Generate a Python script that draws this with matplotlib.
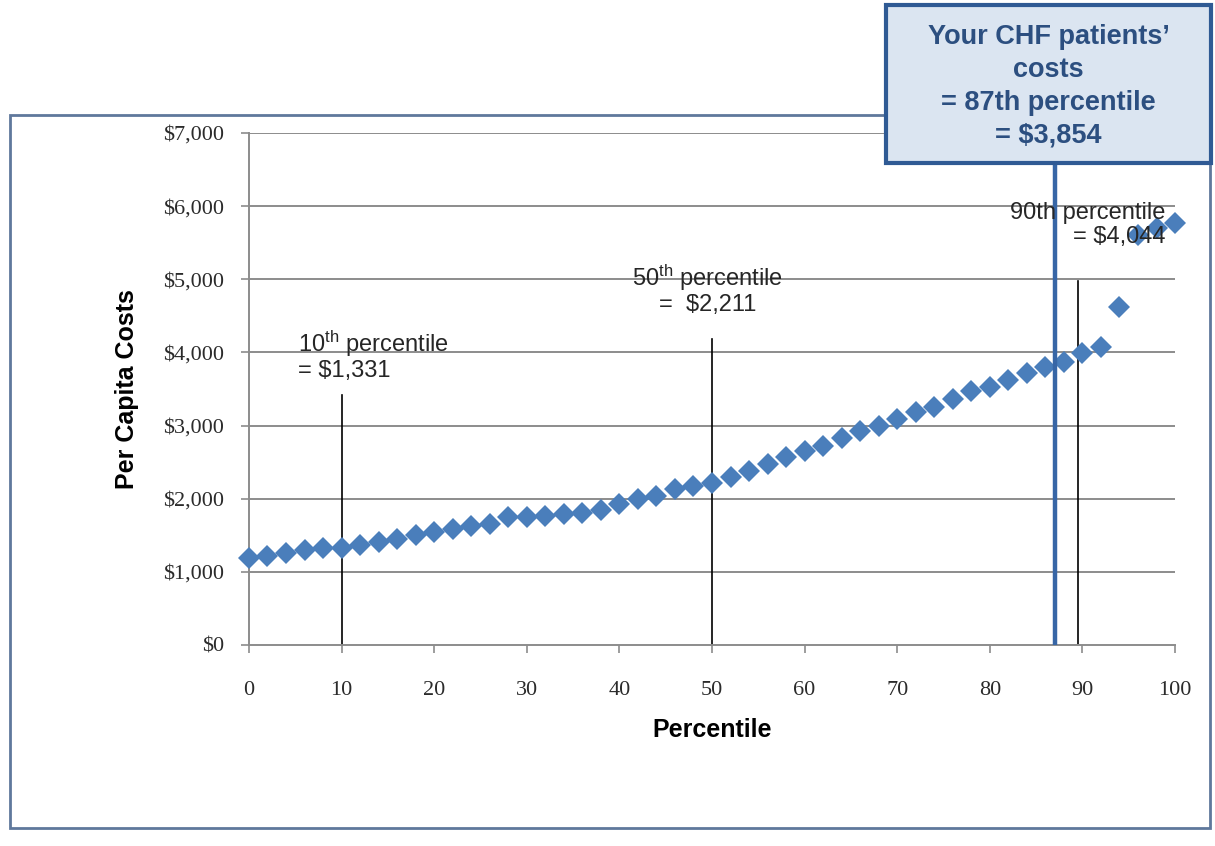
import matplotlib
matplotlib.use("Agg")
import matplotlib.pyplot as plt
from matplotlib.patches import Rectangle

# ======================
# Data
# ======================
percentiles = list(range(0, 101, 2))
costs = [1195, 1215, 1255, 1300, 1325, 1331, 1370, 1410, 1455, 1500,
         1545, 1580, 1625, 1660, 1748, 1755, 1760, 1795, 1800, 1850,
         1930, 2000, 2035, 2135, 2180, 2211, 2293, 2385, 2480, 2565,
         2655, 2725, 2835, 2920, 3000, 3090, 3190, 3255, 3360, 3470,
         3530, 3620, 3720, 3805, 3870, 3990, 4080, 4620, 5610, 5700,
         5770]

y_ticks = [0, 1000, 2000, 3000, 4000, 5000, 6000, 7000]
x_ticks = [0, 10, 20, 30, 40, 50, 60, 70, 80, 90, 100]

# marker lines: (percentile, line top)
ref_lines = [(10, 3420), (50, 4190), (89.5, 4980)]
your_pct = 87

plt.rcParams.update({
    "font.family": "Liberation Sans",
    "mathtext.default": "regular",
})

fig = plt.figure(figsize=(12.15, 8.46), dpi=100)
ax = fig.add_axes([0.2049, 0.2376, 0.7622, 0.6052])

# gridlines
for v in y_ticks[1:]:
    ax.axhline(v, color="#8c8c8c", lw=1.4, zorder=1)

# reference percentile lines
for p, top in ref_lines:
    ax.plot([p, p], [0, top], color="black", lw=1.2, zorder=2)

# data
ax.plot(percentiles, costs, linestyle="none", marker="D", markersize=11,
        color="#4a7ebb", markeredgewidth=0, zorder=3, clip_on=False)

# your practice line
ax.plot([your_pct, your_pct], [0, 7000], color="#3766a6", lw=3.2, zorder=4)

ax.set_xlim(0, 100)
ax.set_ylim(0, 7000)
ax.set_xticks(x_ticks)
ax.set_yticks(y_ticks)
ax.set_yticklabels([f"${v:,}" for v in y_ticks])
for lab in ax.get_xticklabels() + ax.get_yticklabels():
    lab.set_family("Liberation Serif")
    lab.set_fontsize(16)
    lab.set_color("#2b2b2b")
ax.tick_params(axis="both", color="#8c8c8c", width=1.2, length=6)
ax.tick_params(axis="x", pad=20)
ax.tick_params(axis="y", pad=12)

for side in ["top", "right"]:
    ax.spines[side].set_visible(False)
for side in ["left", "bottom"]:
    ax.spines[side].set_color("#8c8c8c")
    ax.spines[side].set_linewidth(1.4)

ax.set_xlabel("Percentile", fontsize=18, fontweight="bold", labelpad=13)
ax.set_ylabel("Per Capita Costs", fontsize=18, fontweight="bold", labelpad=17)

# annotations
txt_color = "#262626"
ax.text(5.3, 3960, "10$^{th}$ percentile\n= $1,331", fontsize=17,
        ha="left", va="center", color=txt_color, linespacing=1.1, zorder=5)
ax.text(49.5, 4860, "50$^{th}$ percentile\n=  $2,211", fontsize=17,
        ha="center", va="center", color=txt_color, linespacing=1.1, zorder=5)
ax.text(99.0, 5740, "90th percentile\n= $4,044", fontsize=17,
        ha="right", va="center", multialignment="right",
        color=txt_color, linespacing=1.1, zorder=5)

# outer chart frame
fig.patches.append(Rectangle((0.0082, 0.0213), 0.9877, 0.843,
                             transform=fig.transFigure, fill=False,
                             edgecolor="#5f789c", lw=2, zorder=0))

# callout box
fig.patches.append(Rectangle((0.729, 0.807), 0.268, 0.187,
                             transform=fig.transFigure, facecolor="#dbe5f1",
                             edgecolor="#2f5a94", lw=3, zorder=10))
fig.text(0.863, 0.898, "Your CHF patients\u2019\ncosts\n= 87th percentile\n= $3,854",
         ha="center", va="center", fontsize=19.5, fontweight="bold",
         color="#2c4f80", linespacing=1.33, zorder=11)

fig.savefig("out.png", dpi=100)
